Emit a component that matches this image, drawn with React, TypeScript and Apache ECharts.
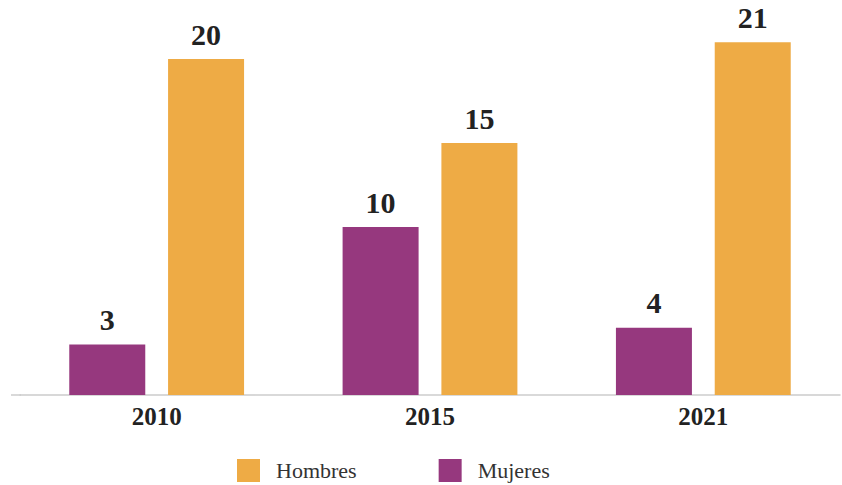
import React, { useEffect, useRef } from "react";
import * as echarts from "echarts";

const categories = ["2010", "2015", "2021"];
const mujeres = [3, 10, 4];
const hombres = [20, 15, 21];
const legendOrder = ["Hombres", "Mujeres"];

const PURPLE = "#96387e";
const ORANGE = "#eeab45";
const FONT = "Liberation Serif";

export default function App() {
  const ref = useRef<HTMLDivElement>(null);
  useEffect(() => {
    if (!ref.current) return;
    const chart = echarts.init(ref.current, null, { renderer: "svg" });
    const label = {
      show: true,
      position: "top",
      distance: 10,
      fontFamily: FONT,
      fontWeight: "bold",
      fontSize: 30,
      color: "#222",
    };
    chart.setOption({
      animation: false,
      grid: { left: 20, right: 2, top: 8.6, bottom: 90, containLabel: false },
      legend: {
        data: legendOrder,
        left: 237,
        top: 459,
        padding: 0,
        itemWidth: 23,
        itemHeight: 23,
        itemGap: 82,
        icon: "rect",
        textStyle: {
          fontFamily: FONT,
          fontSize: 22,
          color: "#333",
          padding: [0, 0, 0, 11],
        },
      },
      xAxis: {
        type: "category",
        data: categories,
        axisLine: { show: true, lineStyle: { color: "#cccccc", width: 1.5 } },
        axisTick: { show: false },
        axisLabel: {
          margin: 9,
          fontFamily: FONT,
          fontWeight: "bold",
          fontSize: 25,
          color: "#222",
        },
      },
      yAxis: {
        type: "value",
        min: 0,
        max: 23,
        show: false,
        splitLine: { show: false },
      },
      graphic: [
        {
          type: "line",
          shape: { x1: 11, y1: 395, x2: 21, y2: 395 },
          style: { stroke: "#cccccc", lineWidth: 1.5 },
        },
      ],
      series: [
        {
          name: "Mujeres",
          type: "bar",
          data: mujeres,
          barWidth: 76,
          barGap: "30%",
          itemStyle: { color: PURPLE },
          label,
        },
        {
          name: "Hombres",
          type: "bar",
          data: hombres,
          barWidth: 76,
          barGap: "30%",
          itemStyle: { color: ORANGE },
          label,
        },
      ],
    });
    return () => chart.dispose();
  }, []);
  return <div ref={ref} style={{ width: 842, height: 485, position: "absolute", left: 0, top: 0 }} />;
}
